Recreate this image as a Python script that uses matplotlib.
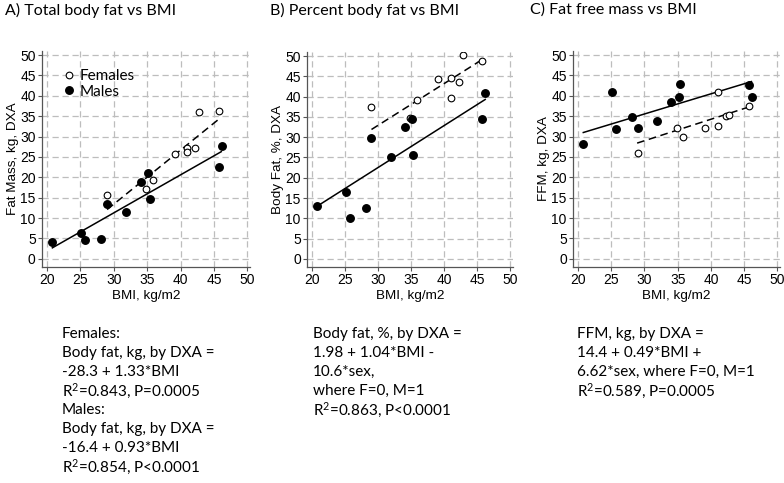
import numpy as np
import matplotlib
matplotlib.use("Agg")
import matplotlib.pyplot as plt

# --- BMI values
bmi_f = [29.0, 34.85, 35.85, 39.1, 41.0, 41.0, 42.2, 42.8, 45.7]
bmi_m = [20.8, 25.1, 25.7, 28.1, 29.0, 31.9, 34.05, 35.15, 35.35, 45.7, 46.15]

# A) fat mass, kg
fm_f = [15.6, 17.1, 19.3, 25.7, 27.2, 26.3, 27.1, 36.1, 36.3]
fm_m = [4.2, 6.4, 4.6, 4.9, 13.5, 11.4, 18.8, 21.0, 14.8, 22.6, 27.6]
# B) body fat, %
pf_f = [37.4, 34.8, 39.2, 44.4, 44.6, 39.7, 43.6, 50.3, 48.9]
pf_m = [13.0, 16.6, 10.1, 12.6, 29.7, 25.2, 32.6, 34.5, 25.7, 34.5, 41.0]
# C) fat free mass, kg
ffm_f = [26.0, 32.1, 29.8, 32.0, 32.5, 41.0, 35.0, 35.3, 37.5]
ffm_m = [28.3, 41.0, 31.9, 34.7, 32.1, 33.8, 38.5, 39.7, 42.8, 42.6, 39.6]

# fitted lines as drawn (x ends, y ends)
fit_a_f = ([29.0, 45.9], [12.1, 34.5])
fit_a_m = ([20.8, 46.1], [2.7, 26.3])
fit_b_f = ([29.0, 45.8], [31.9, 49.2])
fit_b_m = ([20.8, 46.2], [13.0, 39.3])
fit_c_f = ([28.9, 45.6], [28.4, 37.2])
fit_c_m = ([20.8, 46.1], [31.0, 43.5])

titles = ["A) Total body fat vs BMI", "B) Percent body fat vs BMI", "C) Fat free mass vs BMI"]
ylabels = ["Fat Mass, kg, DXA", "Body Fat, %, DXA", "FFM, kg, DXA"]
notes = [
    ["Females:", "Body fat, kg, by DXA =", "-28.3 + 1.33*BMI", "R$^{2}$=0.843, P=0.0005",
     "Males:", "Body fat, kg, by DXA =", "-16.4 + 0.93*BMI", "R$^{2}$=0.854, P<0.0001"],
    ["Body fat, %, by DXA =", "1.98 + 1.04*BMI -", "10.6*sex,", "where F=0, M=1",
     "R$^{2}$=0.863, P<0.0001"],
    ["FFM, kg, by DXA =", "14.4 + 0.49*BMI +", "6.62*sex, where F=0, M=1",
     "R$^{2}$=0.589, P=0.0005"],
]

TXT = "Lato"
TICK = "Liberation Sans"
plt.rcParams["mathtext.fontset"] = "custom"
plt.rcParams["mathtext.rm"] = TXT
plt.rcParams["mathtext.it"] = TXT

W, H = 784, 483
fig = plt.figure(figsize=(W / 100, H / 100), dpi=100)

# axes boxes in pixels: left, right, top, bottom
boxes = [(42, 250, 51, 267), (307, 513, 52, 267), (573, 780, 51, 267)]
title_x = [5, 270, 530]
note_x = [62, 313, 577]

panels = [
    (fm_f, fm_m, fit_a_f, fit_a_m),
    (pf_f, pf_m, fit_b_f, fit_b_m),
    (ffm_f, ffm_m, fit_c_f, fit_c_m),
]

for i, (yf, ym, ff, fm) in enumerate(panels):
    l, r, t, b = boxes[i]
    ax = fig.add_axes([l / W, 1 - b / H, (r - l) / W, (b - t) / H])
    ax.set_xlim(19.25, 50.4)
    ax.set_ylim(-2, 51)
    ax.set_xticks(np.arange(20, 51, 5))
    ax.set_yticks(np.arange(0, 51, 5))
    ax.grid(True, color="#bdbdbd", linestyle=(0, (5, 3)), linewidth=0.9)
    ax.set_axisbelow(True)
    for s in ["top", "right"]:
        ax.spines[s].set_visible(False)
    for s in ["left", "bottom"]:
        ax.spines[s].set_color("#555555")
        ax.spines[s].set_linewidth(0.9)
    ax.tick_params(length=3, width=0.8, color="#555555", pad=1.5, labelsize=10)
    for lab in ax.get_xticklabels() + ax.get_yticklabels():
        lab.set_fontfamily(TICK)

    ax.plot(ff[0], ff[1], color="black", linestyle=(0, (5, 3)), linewidth=1.1, zorder=2)
    ax.plot(fm[0], fm[1], color="black", linestyle="-", linewidth=1.1, zorder=2)
    ax.plot(bmi_f, yf, linestyle="none", marker="o", ms=4.8, mfc="white", mec="black",
            mew=0.8, label="Females", zorder=3)
    ax.plot(bmi_m, ym, linestyle="none", marker="o", ms=5.4, mfc="black", mec="black",
            label="Males", zorder=3)

    ax.set_xlabel("BMI, kg/m2", fontfamily=TICK, fontsize=9.7, labelpad=2)
    ax.set_ylabel(ylabels[i], fontfamily=TICK, fontsize=9.7, labelpad=1)

    if i == 0:
        ax.legend(loc="upper left", bbox_to_anchor=(0.04, 0.965), frameon=False,
                  prop={"family": TXT, "size": 11}, handletextpad=0.2,
                  labelspacing=0.1, handlelength=1.0, borderpad=0.2)

    fig.text(title_x[i] / W, 1 - 10 / H, titles[i], fontfamily=TXT, fontsize=11.5,
             va="center", ha="left")
    for k, line in enumerate(notes[i]):
        fig.text(note_x[i] / W, 1 - (334 + 19 * k) / H, line, fontfamily=TXT,
                 fontsize=11, va="center", ha="left")

fig.savefig("out.png", dpi=100)
